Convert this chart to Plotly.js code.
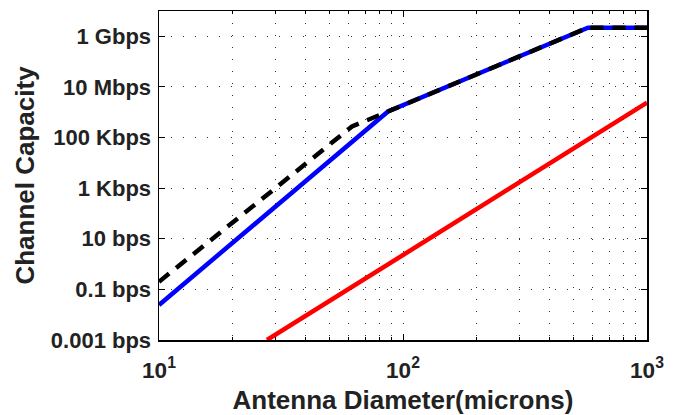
<!DOCTYPE html>
<html>
<head>
<meta charset="utf-8">
<script src="https://cdn.plot.ly/plotly-3.0.1.min.js"></script>
<style>html,body{margin:0;padding:0;background:#fff;}#chart{width:677px;height:415px;}</style>
</head>
<body>
<div id="chart"></div>
<script>
// Antenna diameter (microns) and channel capacity (bps)
var blueDiameter = [10, 86.8, 573, 1000];
var blueCapacity = [0.0243, 1.07e6, 2.2e9, 2.2e9];

var blackDiameter = [10, 61.8, 86.8, 573, 1000];
var blackCapacity = [0.2, 2.73e5, 1.07e6, 2.2e9, 2.2e9];

var redDiameter = [27.7, 1000];
var redCapacity = [0.001, 2.4e6];

var xTickAlias = {'10': '10<sup>1</sup>'};

var yTickVals = [1e-3, 1e-1, 1e1, 1e3, 1e5, 1e7, 1e9];
var yTickText = ['0.001 bps', '0.1 bps', '10 bps', '1 Kbps', '100 Kbps', '10 Mbps', '1 Gbps'];

var font = 'Liberation Sans, Arial, Helvetica, sans-serif';

var traces = [
  {x: redDiameter, y: redCapacity, mode: 'lines', line: {color: '#ff0000', width: 4.5}, hoverinfo: 'skip'},
  {x: blueDiameter, y: blueCapacity, mode: 'lines', line: {color: '#0000ff', width: 4.5}, hoverinfo: 'skip'},
  {x: blackDiameter, y: blackCapacity, mode: 'lines', line: {color: '#000000', width: 4.5, dash: '13px,9px'}, hoverinfo: 'skip'}
];

var layout = {
  width: 677, height: 415,
  margin: {l: 159, r: 30, t: 11, b: 75},
  paper_bgcolor: '#fff', plot_bgcolor: '#fff',
  showlegend: false,
  font: {family: font, color: '#222', size: 19},
  xaxis: {
    type: 'log', range: [1, 3], dtick: 1, exponentformat: 'power',
    labelalias: xTickAlias,
    showline: true, linecolor: '#000', linewidth: 1.5, mirror: 'ticks',
    ticks: 'inside', ticklen: 6, tickcolor: '#000', tickwidth: 1,
    ticklabelstandoff: 10,
    showgrid: true, gridcolor: '#333', gridwidth: 1, griddash: '1px,11px',
    minor: {ticks: 'inside', ticklen: 3, tickcolor: '#000', showgrid: true, gridcolor: '#333', gridwidth: 1, griddash: '1px,11px'},
    zeroline: false,
    tickfont: {family: font, size: 18, color: '#222', weight: 'bold'},
    title: {text: 'Antenna Diameter(microns)', font: {family: font, size: 26, color: '#222', weight: 'bold'}, standoff: 10}
  },
  yaxis: {
    type: 'log', range: [-3, 10],
    tickmode: 'array', tickvals: yTickVals, ticktext: yTickText,
    showline: true, linecolor: '#000', linewidth: 1.5, mirror: 'ticks',
    ticks: 'inside', ticklen: 6, tickcolor: '#000', tickwidth: 1,
    ticklabelstandoff: 2,
    showgrid: true, gridcolor: '#333', gridwidth: 1, griddash: '1px,11px',
    zeroline: false,
    tickfont: {family: font, size: 22, color: '#222', weight: 'bold'},
    title: {text: 'Channel Capacity', font: {family: font, size: 26, color: '#222', weight: 'bold'}, standoff: 8}
  }
};

Plotly.newPlot('chart', traces, layout, {displayModeBar: false, staticPlot: true});
</script>
</body>
</html>
